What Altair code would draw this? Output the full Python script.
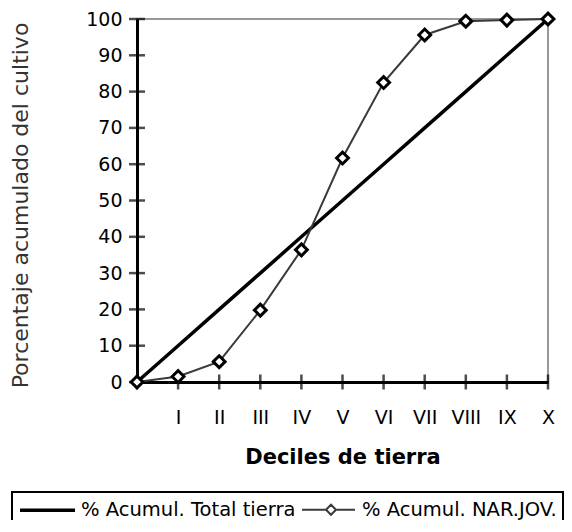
import altair as alt
import pandas as pd

deciles = ["0", "I", "II", "III", "IV", "V", "VI", "VII", "VIII", "IX", "X"]
total_tierra = [0, 10, 20, 30, 40, 50, 60, 70, 80, 90, 100]
nar_jov = [0, 1.5, 5.6, 19.8, 36.4, 61.7, 82.5, 95.6, 99.4, 99.7, 100]
series_names = ["% Acumul. Total tierra", "% Acumul. NAR.JOV."]
y_ticks = [0, 10, 20, 30, 40, 50, 60, 70, 80, 90, 100]

FONT = "DejaVu Sans"

rows = []
for d, v in zip(deciles, total_tierra):
    rows.append({"decil": d, "valor": v, "serie": series_names[0]})
for d, v in zip(deciles, nar_jov):
    rows.append({"decil": d, "valor": v, "serie": series_names[1]})
df = pd.DataFrame(rows)
df_nar = df[df["serie"] == series_names[1]]
df_yt = pd.DataFrame({"valor": y_ticks})
df_xt = pd.DataFrame({"decil": deciles})

x_scale = alt.Scale(type="point", domain=deciles, padding=0)
y_scale = alt.Scale(domain=[0, 100], nice=False)

x_axis = alt.Axis(
    title="Deciles de tierra",
    labelExpr="datum.value == '0' ? '' : datum.value",
    labelAngle=0,
    labelOverlap=False,
    ticks=False,
    tickSize=0,
    labelPadding=26,
    labelFont=FONT,
    labelFontSize=19,
    labelColor="black",
    domainColor="black",
    domainWidth=3,
    grid=False,
    titleFont=FONT,
    titleFontSize=21,
    titleFontWeight="bold",
    titleColor="black",
    titleY=64,
    titleBaseline="top",
)
y_axis = alt.Axis(
    title="Porcentaje acumulado del cultivo",
    values=y_ticks,
    tickCount=11,
    labelOverlap=False,
    ticks=False,
    tickSize=0,
    labelPadding=15,
    labelFont=FONT,
    labelFontSize=19,
    labelColor="black",
    domainColor="black",
    domainWidth=3,
    grid=False,
    titleFont=FONT,
    titleFontSize=22,
    titleFontWeight="normal",
    titleColor="#333333",
    titleAngle=270,
    titleX=-110,
    titleY=186,
    titleAlign="center",
    titleBaseline="alphabetic",
)

path_total = "M-1,0H4.5"
path_nar = "M-1,0H1.4M1.4,0L1.9,-0.5L2.4,0L1.9,0.5ZM2.4,0H4.3"
sym_expr = f"datum.value === '{series_names[0]}' ? '{path_total}' : '{path_nar}'"

legend = alt.Legend(
    title=None,
    orient="none",
    legendX=-125,
    legendY=473,
    direction="horizontal",
    symbolType={"expr": sym_expr},
    symbolSize=400,
    symbolStrokeWidth=2.5,
    labelOffset=39,
    labelLimit=0,
    columnPadding=2,
    labelFont=FONT,
    labelFontSize=19.5,
    labelColor="black",
    padding=6,
    strokeColor="black",
    fillColor="white",
)

X = alt.X("decil:O", scale=x_scale, axis=x_axis, sort=deciles)
Y = alt.Y("valor:Q", scale=y_scale, axis=y_axis)

lines = alt.Chart(df).mark_line().encode(
    x=X,
    y=Y,
    color=alt.Color("serie:N", scale=alt.Scale(domain=series_names, range=["black", "#3a3a3a"]), legend=legend),
    strokeWidth=alt.StrokeWidth("serie:N", scale=alt.Scale(domain=series_names, range=[3.5, 2]), legend=None),
    order=alt.Order("valor:Q"),
)

points = alt.Chart(df_nar).mark_point(
    shape="diamond", filled=True, fill="white", stroke="black", strokeWidth=3, size=140, opacity=1
).encode(
    x=X,
    y=Y,
)

yticks = alt.Chart(df_yt).mark_tick(orient="horizontal", color="black", thickness=2.5, size=16).encode(
    y=Y,
    x=alt.value(0),
)

xticks = alt.Chart(df_xt).mark_tick(orient="vertical", color="black", thickness=2.5, size=15).encode(
    x=X,
    y=alt.value(363),
)

chart = alt.layer(yticks, xticks, lines, points).properties(
    width=411,
    height=363,
    autosize=alt.AutoSizeParams(type="none"),
    padding={"left": 129, "top": 11, "right": 16, "bottom": 138},
).configure_view(
    stroke="#777777", strokeWidth=1.5
).configure_legend(
    strokeWidth=2
)

chart.save("out.html", embed_options={"renderer": "svg", "actions": False})
